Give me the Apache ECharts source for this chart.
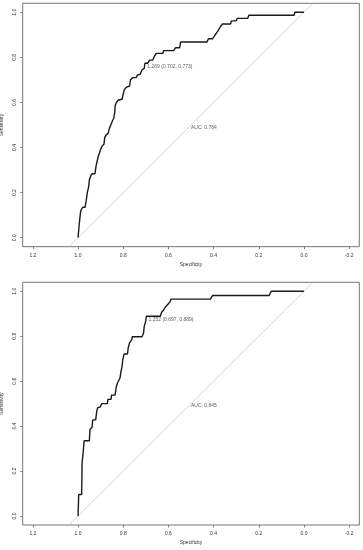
<!DOCTYPE html>
<html>
<head>
<meta charset="utf-8">
<script src="https://cdn.jsdelivr.net/npm/echarts@6/dist/echarts.min.js"></script>
<style>
html,body{margin:0;padding:0;background:#fff;}
#chart{width:363px;height:550px;}
</style>
</head>
<body>
<div id="chart"></div>
<script>
// ---- data ----
const xTicks = [1.2, 1.0, 0.8, 0.6, 0.4, 0.2, 0.0, -0.2];
const yTicks = [0.0, 0.2, 0.4, 0.6, 0.8, 1.0];

// Top ROC curve (specificity, sensitivity)
const specTop = [1.0, 0.997, 0.993, 0.988, 0.979, 0.969, 0.964, 0.959, 0.953, 0.950, 0.944, 0.938, 0.925, 0.920, 0.914, 0.911, 0.904, 0.901, 0.895, 0.885, 0.882, 0.876, 0.867, 0.861, 0.855, 0.848, 0.842, 0.837, 0.836, 0.831, 0.821, 0.805, 0.802, 0.796, 0.787, 0.783, 0.772, 0.768, 0.759, 0.743, 0.737, 0.725, 0.717, 0.707, 0.704, 0.692, 0.683, 0.669, 0.663, 0.654, 0.624, 0.621, 0.577, 0.568, 0.550, 0.546, 0.429, 0.423, 0.404, 0.396, 0.388, 0.380, 0.370, 0.361, 0.325, 0.321, 0.300, 0.296, 0.249, 0.244, 0.044, 0.040, 0.0];
const sensTop = [0.0, 0.034, 0.078, 0.120, 0.135, 0.135, 0.163, 0.200, 0.226, 0.256, 0.274, 0.284, 0.284, 0.320, 0.320, 0.359, 0.362, 0.389, 0.404, 0.416, 0.444, 0.456, 0.463, 0.485, 0.500, 0.518, 0.530, 0.559, 0.584, 0.599, 0.611, 0.614, 0.629, 0.655, 0.667, 0.670, 0.673, 0.700, 0.710, 0.710, 0.722, 0.725, 0.744, 0.751, 0.774, 0.774, 0.788, 0.788, 0.803, 0.818, 0.818, 0.830, 0.830, 0.843, 0.843, 0.868, 0.868, 0.883, 0.883, 0.896, 0.907, 0.919, 0.936, 0.948, 0.948, 0.962, 0.962, 0.973, 0.973, 0.987, 0.987, 1.0, 1.0];
const aucTop = "AUC: 0.784";
const thresTop = { spec: 0.702, sens: 0.773, label: "1.269 (0.702, 0.773)" };

// Bottom ROC curve
const specBottom = [1.0, 0.997, 0.997, 0.984, 0.982, 0.978, 0.973, 0.950, 0.947, 0.938, 0.935, 0.922, 0.917, 0.913, 0.902, 0.895, 0.870, 0.868, 0.854, 0.852, 0.836, 0.831, 0.825, 0.814, 0.811, 0.805, 0.802, 0.796, 0.781, 0.778, 0.772, 0.762, 0.760, 0.717, 0.710, 0.707, 0.700, 0.698, 0.636, 0.630, 0.621, 0.615, 0.607, 0.602, 0.592, 0.589, 0.414, 0.405, 0.154, 0.145, 0.0];
const sensBottom = [0.0, 0.0, 0.096, 0.096, 0.239, 0.276, 0.335, 0.335, 0.386, 0.394, 0.428, 0.428, 0.468, 0.482, 0.485, 0.500, 0.500, 0.519, 0.519, 0.538, 0.538, 0.574, 0.593, 0.615, 0.637, 0.667, 0.696, 0.721, 0.721, 0.748, 0.770, 0.785, 0.798, 0.798, 0.814, 0.844, 0.869, 0.889, 0.889, 0.907, 0.917, 0.928, 0.929, 0.942, 0.954, 0.965, 0.965, 0.981, 0.981, 1.0, 1.0];
const aucBottom = "AUC: 0.845";
const thresBottom = { spec: 0.697, sens: 0.889, label: "1.252 (0.697, 0.889)" };

const aucPos = [0.5, 0.5];

// ---- chart ----
const X_MIN = -0.245, X_MAX = 1.245, Y_MIN = -0.04, Y_MAX = 1.04;
const FONT = 'Liberation Sans, Arial, sans-serif';
const TXT = '#333';
const AX = '#666';

function zip(a, b) { return a.map((v, i) => [v, b[i]]); }
const diag = [[1 - Y_MIN, Y_MIN], [1 - Y_MAX, Y_MAX]];

function xAxisCfg(idx) {
  return {
    type: 'value', gridIndex: idx, inverse: true, min: X_MIN, max: X_MAX,
    position: 'bottom',
    axisLine: { show: false, onZero: false },
    splitLine: { show: false },
    axisTick: { show: true, customValues: xTicks, length: 2.5, lineStyle: { color: AX, width: 0.8 } },
    axisLabel: { customValues: xTicks, formatter: v => v.toFixed(1), fontSize: 5, color: TXT, fontFamily: FONT, margin: 6.5 },
    name: 'Specificity', nameLocation: 'middle', nameGap: 15,
    nameTextStyle: { fontSize: 5, color: TXT, fontFamily: FONT }
  };
}
function yAxisCfg(idx) {
  return {
    type: 'value', gridIndex: idx, min: Y_MIN, max: Y_MAX,
    position: 'left',
    axisLine: { show: false, onZero: false },
    splitLine: { show: false },
    axisTick: { show: true, customValues: yTicks, length: 2.5, lineStyle: { color: AX, width: 0.8 } },
    axisLabel: { customValues: yTicks, formatter: v => v.toFixed(1), fontSize: 5, color: TXT, fontFamily: FONT, margin: 6, rotate: 90 },
    name: 'Sensitivity', nameLocation: 'middle', nameGap: 16,
    nameTextStyle: { fontSize: 5, color: TXT, fontFamily: FONT }
  };
}
function seriesFor(idx, spec, sens, auc, thres) {
  return [
    { type: 'line', xAxisIndex: idx, yAxisIndex: idx, data: diag, showSymbol: false, silent: true,
      lineStyle: { color: '#cccccc', width: 0.8 }, clip: true, z: 1 },
    { type: 'line', xAxisIndex: idx, yAxisIndex: idx, data: zip(spec, sens), showSymbol: false,
      lineStyle: { color: '#1a1a1a', width: 1.4 }, z: 2 },
    { type: 'scatter', xAxisIndex: idx, yAxisIndex: idx, symbolSize: 0,
      data: [[thres.spec, thres.sens]],
      label: { show: true, position: 'right', distance: 2, offset: [0, 3.5], formatter: thres.label,
        fontSize: 5, color: TXT, fontFamily: FONT }, z: 3 },
    { type: 'scatter', xAxisIndex: idx, yAxisIndex: idx, symbolSize: 0,
      data: [aucPos],
      label: { show: true, position: 'right', distance: 0, offset: [0, 2.3], formatter: auc,
        fontSize: 5, color: TXT, fontFamily: FONT }, z: 3 }
  ];
}

const chart = echarts.init(document.getElementById('chart'), null, { renderer: 'canvas' });
chart.setOption({
  backgroundColor: '#fff',
  animation: false,
  grid: [
    { left: 22.7, top: 3.3, width: 336.6, height: 243.4, show: true, borderColor: AX, borderWidth: 0.9,
      backgroundColor: 'transparent', containLabel: false, outerBoundsMode: 'none' },
    { left: 22.7, top: 282.3, width: 336.6, height: 242.7, show: true, borderColor: AX, borderWidth: 0.9,
      backgroundColor: 'transparent', containLabel: false, outerBoundsMode: 'none' }
  ],
  xAxis: [xAxisCfg(0), xAxisCfg(1)],
  yAxis: [yAxisCfg(0), yAxisCfg(1)],
  series: [].concat(
    seriesFor(0, specTop, sensTop, aucTop, thresTop),
    seriesFor(1, specBottom, sensBottom, aucBottom, thresBottom)
  )
});
</script>
</body>
</html>
